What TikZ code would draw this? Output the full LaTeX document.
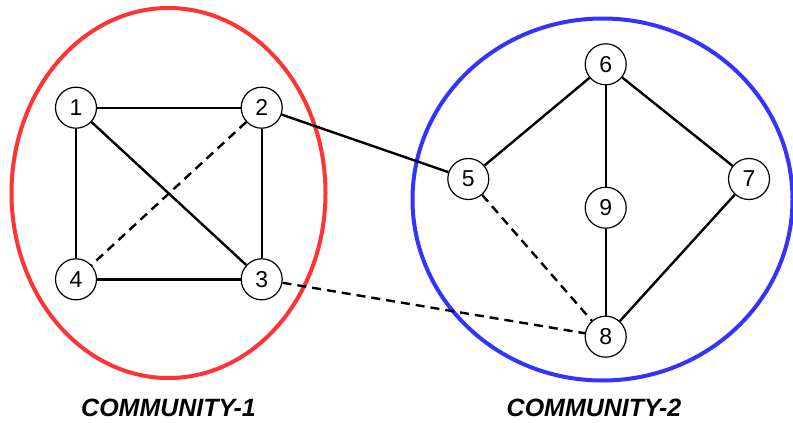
\documentclass[tikz,border=0pt]{standalone}
\usepackage{fontspec}
\setmainfont{Liberation Sans}
\begin{document}
\begin{tikzpicture}[x=1pt,y=-1pt,
  vtx/.style={circle,draw=black,line width=1.2pt,fill=white,minimum size=41pt,inner sep=0pt,font=\fontsize{23}{23}\selectfont},
  edge/.style={line width=2.4pt},
  dedge/.style={line width=2.4pt,dash pattern=on 9pt off 6pt},
  comm/.style={font=\fontsize{25}{25}\selectfont\bfseries\itshape,anchor=base}]
\useasboundingbox (0,0) rectangle (793,423);
\definecolor{cred}{HTML}{FF3333}
\definecolor{cblue}{HTML}{3333FF}
\draw[cred,line width=4pt] (168.5,193) ellipse [x radius=157, y radius=185];
\draw[cblue,line width=4pt] (602.5,199.5) ellipse [x radius=190, y radius=181];
\node[vtx] (n1) at (76,107.7) {1};
\node[vtx] (n2) at (261.7,107.7) {2};
\node[vtx] (n3) at (261.7,279.3) {3};
\node[vtx] (n4) at (76,279.3) {4};
\node[vtx] (n5) at (468.3,179) {5};
\node[vtx] (n6) at (605.7,64.3) {6};
\node[vtx] (n7) at (749,179) {7};
\node[vtx] (n8) at (605.7,336.7) {8};
\node[vtx] (n9) at (605.7,207.7) {9};
\draw[edge] (n1) -- (n2);
\draw[edge] (n1) -- (n4);
\draw[edge] (n1) -- (n3);
\draw[edge] (n2) -- (n3);
\draw[edge] (n4) -- (n3);
\draw[dedge] (n2) -- (n4);
\draw[edge] (n2) -- (n5);
\draw[dedge] (n3) -- (n8);
\draw[edge] (n5) -- (n6);
\draw[edge] (n6) -- (n9);
\draw[edge] (n6) -- (n7);
\draw[edge] (n9) -- (n8);
\draw[edge] (n7) -- (n8);
\draw[dedge] (n5) -- (n8);
\node[comm] (c1) at (168.5,416.5) {COMMUNITY-1};
\node[comm] (c2) at (594,416.5) {COMMUNITY-2};
\end{tikzpicture}
\end{document}
